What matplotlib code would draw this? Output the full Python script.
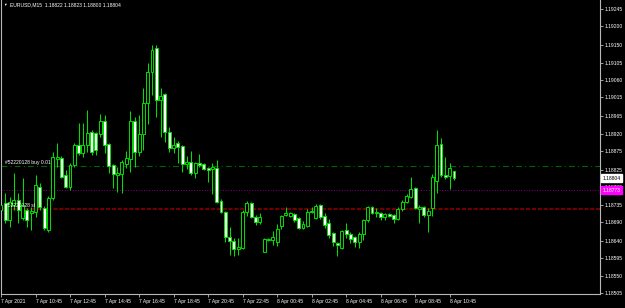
import numpy as np
import matplotlib
matplotlib.use("Agg")
import matplotlib.pyplot as plt
from matplotlib.transforms import blended_transform_factory

plt.rcParams['lines.scale_dashes'] = False
plt.rcParams['font.family'] = ['Liberation Sans', 'DejaVu Sans']

# ---------------- data (EURUSD M15, 7 Apr 2021 08:45 .. 8 Apr 11:00) ----------------
opens = [
    1.18721, 1.18740, 1.18695, 1.18734, 1.18747, 1.18700, 1.18721, 1.18713, 1.18716, 1.18781,
    1.18727, 1.18669, 1.18753, 1.18854, 1.18857, 1.18813, 1.18781, 1.18839, 1.18891, 1.18870,
    1.18891, 1.18925, 1.18922, 1.18919, 1.18953, 1.18893, 1.18839, 1.18813, 1.18815, 1.18841,
    1.18854, 1.18953, 1.18872, 1.18919, 1.19000, 1.19081, 1.19143, 1.19008, 1.19024, 1.18925,
    1.18883, 1.18896, 1.18888, 1.18841, 1.18846, 1.18818, 1.18844, 1.18841, 1.18831, 1.18828,
    1.18831, 1.18745, 1.18716, 1.18651, 1.18641, 1.18620, 1.18622, 1.18716, 1.18740, 1.18703,
    1.18690, 1.18612, 1.18643, 1.18643, 1.18638, 1.18680, 1.18708, 1.18706, 1.18711, 1.18700,
    1.18674, 1.18680, 1.18716, 1.18700, 1.18734, 1.18706, 1.18687, 1.18661, 1.18635, 1.18622,
    1.18669, 1.18659, 1.18651, 1.18638, 1.18659, 1.18695, 1.18729, 1.18713, 1.18713, 1.18703,
    1.18711, 1.18708, 1.18698, 1.18724, 1.18742, 1.18755, 1.18779, 1.18724, 1.18729, 1.18708,
    1.18727, 1.18797, 1.18893, 1.18813, 1.18810, 1.18822]
highs = [
    1.18747, 1.18766, 1.18755, 1.18818, 1.18766, 1.18805, 1.18727, 1.18729, 1.18813, 1.18792,
    1.18732, 1.18758, 1.18872, 1.18896, 1.18862, 1.18826, 1.18844, 1.18896, 1.18948, 1.18948,
    1.18982, 1.18930, 1.18925, 1.18971, 1.18969, 1.18896, 1.18841, 1.18833, 1.18852, 1.18875,
    1.18979, 1.18964, 1.18969, 1.19039, 1.19104, 1.19151, 1.19151, 1.19039, 1.19026, 1.18938,
    1.18912, 1.18901, 1.18891, 1.18862, 1.18875, 1.18846, 1.18867, 1.18844, 1.18833, 1.18844,
    1.18852, 1.18750, 1.18719, 1.18677, 1.18648, 1.18648, 1.18721, 1.18745, 1.18742, 1.18708,
    1.18713, 1.18648, 1.18648, 1.18667, 1.18685, 1.18708, 1.18729, 1.18716, 1.18713, 1.18703,
    1.18693, 1.18724, 1.18729, 1.18737, 1.18737, 1.18713, 1.18698, 1.18664, 1.18638, 1.18669,
    1.18687, 1.18664, 1.18654, 1.18664, 1.18698, 1.18732, 1.18732, 1.18727, 1.18716, 1.18713,
    1.18713, 1.18711, 1.18729, 1.18747, 1.18763, 1.18807, 1.18781, 1.18734, 1.18732, 1.18727,
    1.18815, 1.18930, 1.18909, 1.18859, 1.18844, 1.18823]
lows = [
    1.18708, 1.18687, 1.18677, 1.18721, 1.18687, 1.18695, 1.18677, 1.18669, 1.18703, 1.18721,
    1.18669, 1.18664, 1.18747, 1.18833, 1.18805, 1.18779, 1.18773, 1.18833, 1.18865, 1.18859,
    1.18872, 1.18865, 1.18865, 1.18912, 1.18870, 1.18818, 1.18779, 1.18768, 1.18766, 1.18831,
    1.18820, 1.18833, 1.18862, 1.18878, 1.18945, 1.19021, 1.18964, 1.18912, 1.18899, 1.18872,
    1.18870, 1.18844, 1.18820, 1.18828, 1.18813, 1.18805, 1.18833, 1.18826, 1.18794, 1.18763,
    1.18740, 1.18713, 1.18638, 1.18604, 1.18601, 1.18604, 1.18620, 1.18706, 1.18700, 1.18682,
    1.18685, 1.18612, 1.18641, 1.18630, 1.18628, 1.18672, 1.18706, 1.18703, 1.18690, 1.18672,
    1.18672, 1.18677, 1.18713, 1.18698, 1.18698, 1.18674, 1.18648, 1.18628, 1.18601, 1.18620,
    1.18648, 1.18635, 1.18625, 1.18622, 1.18643, 1.18690, 1.18711, 1.18703, 1.18695, 1.18695,
    1.18703, 1.18687, 1.18695, 1.18719, 1.18740, 1.18753, 1.18724, 1.18687, 1.18703, 1.18664,
    1.18706, 1.18766, 1.18807, 1.18802, 1.18776, 1.18800]
closes = [
    1.18734, 1.18695, 1.18742, 1.18747, 1.18721, 1.18734, 1.18695, 1.18719, 1.18786, 1.18729,
    1.18674, 1.18753, 1.18859, 1.18859, 1.18807, 1.18781, 1.18839, 1.18891, 1.18870, 1.18891,
    1.18922, 1.18872, 1.18878, 1.18953, 1.18891, 1.18836, 1.18815, 1.18818, 1.18846, 1.18857,
    1.18953, 1.18872, 1.18919, 1.19000, 1.19081, 1.19138, 1.19008, 1.19018, 1.18925, 1.18883,
    1.18891, 1.18885, 1.18841, 1.18846, 1.18818, 1.18844, 1.18839, 1.18828, 1.18826, 1.18833,
    1.18742, 1.18716, 1.18651, 1.18641, 1.18620, 1.18625, 1.18716, 1.18740, 1.18703, 1.18690,
    1.18703, 1.18646, 1.18646, 1.18651, 1.18672, 1.18706, 1.18713, 1.18713, 1.18695, 1.18674,
    1.18685, 1.18716, 1.18719, 1.18732, 1.18703, 1.18682, 1.18656, 1.18638, 1.18630, 1.18667,
    1.18659, 1.18646, 1.18638, 1.18659, 1.18695, 1.18729, 1.18713, 1.18716, 1.18703, 1.18711,
    1.18706, 1.18698, 1.18724, 1.18742, 1.18758, 1.18776, 1.18727, 1.18729, 1.18708, 1.18719,
    1.18807, 1.18891, 1.18813, 1.18807, 1.18831, 1.18804]

time_labels = ["7 Apr 2021", "7 Apr 10:45", "7 Apr 12:45", "7 Apr 14:45", "7 Apr 16:45",
               "7 Apr 18:45", "7 Apr 20:45", "7 Apr 22:45", "8 Apr 00:45", "8 Apr 02:45",
               "8 Apr 04:45", "8 Apr 06:45", "8 Apr 08:45", "8 Apr 10:45"]
bars_per_label = 8

price_ticks = [1.19245, 1.19200, 1.19150, 1.19105, 1.19060, 1.19015, 1.18965, 1.18920,
               1.18875, 1.18825, 1.18780, 1.18735, 1.18690, 1.18640, 1.18595, 1.18550, 1.18505]

symbol = "EURUSD,M15"
order_label = "#52220128 buy 0.01"
sl_label = "#52220128 sl"
order_price = 1.18836
ask_price = 1.18773
bid_price = 1.18804
sl_price = 1.18724

# ---------------- figure ----------------
GREEN = '#00e000'
FS = 3.6
W, H = 625, 308
fig = plt.figure(figsize=(W / 100, H / 100), dpi=100, facecolor='black')
ax = fig.add_axes([1 / W, 14 / H, 599 / W, 294 / H])
ax.set_facecolor('black')

n = len(opens)
x = np.arange(n)
ax.set_xlim(0, 599 / 4.314)
ax.set_ylim(1.185023, 1.192685)

o = np.array(opens); c = np.array(closes)
ax.vlines(x, lows, highs, color=GREEN, lw=0.75, zorder=2)
bottoms = np.minimum(o, c)
heights = np.maximum(np.abs(c - o), 0.000008)
faces = ['white' if cc < oo else 'black' for oo, cc in zip(o, c)]
ax.bar(x, heights, bottom=bottoms, width=0.68, color=faces, edgecolor=GREEN,
       linewidth=0.7, zorder=3)

# order / price lines
ax.axhline(order_price, color='#006400', lw=0.8, dashes=[4.3, 2.2, 0.8, 2.2], zorder=1)
ax.axhline(ask_price, color='#b000b0', lw=0.6, dashes=[0.6, 1.3], zorder=1)
ax.axhline(sl_price, color='#700000', lw=1.5, dashes=[3.0, 1.2], zorder=1)

# spines
ax.spines['top'].set_visible(False)
for s in ['left', 'right', 'bottom']:
    ax.spines[s].set_color('#b8b8b8')
    ax.spines[s].set_linewidth(0.8)

# y axis on the right
ax.yaxis.tick_right()
ax.set_yticks(price_ticks)
ax.set_yticklabels([f"{p:.5f}" for p in price_ticks])
ax.tick_params(axis='y', colors='#b8b8b8', length=2, width=0.6, pad=1.5,
               labelsize=FS, labelcolor='white')

# x axis
ax.set_xticks(x[::bars_per_label][:len(time_labels)])
ax.set_xticklabels(time_labels, ha='left')
ax.tick_params(axis='x', colors='#b8b8b8', length=2, width=0.6, pad=1.5,
               labelsize=FS, labelcolor='white')

# price boxes on the right axis
tr = blended_transform_factory(ax.transAxes, ax.transData)
ax.text(1.004, bid_price, f"{bid_price:.5f}", transform=tr, fontsize=FS, color='black',
        va='center', ha='left', zorder=10,
        bbox=dict(boxstyle='square,pad=0.25', facecolor='white', edgecolor='white'),
        clip_on=False)
ax.text(1.004, ask_price, f"{ask_price:.5f}", transform=tr, fontsize=FS, color='white',
        va='center', ha='left', zorder=10,
        bbox=dict(boxstyle='square,pad=0.25', facecolor='#ff00ff', edgecolor='#ff00ff'),
        clip_on=False)

# order labels
ax.text(4 / 599, order_price + 0.00002, order_label, transform=tr, fontsize=FS,
        color='white', va='bottom', ha='left', zorder=5)
ax.text(4 / 599, sl_price + 0.00002, sl_label, transform=tr, fontsize=FS,
        color='white', va='bottom', ha='left', zorder=5)

# header
fig.text(3 / W, 1 - 5 / H, "\u25BC", fontsize=2.6, color='white', va='center', ha='left')
fig.text(10 / W, 1 - 5 / H,
         f"{symbol}  {opens[-1]:.5f} {highs[-1]:.5f} {lows[-1]:.5f} {closes[-1]:.5f}",
         fontsize=FS, color='white', va='center', ha='left')

fig.savefig('out.png', dpi=100, facecolor='black')
